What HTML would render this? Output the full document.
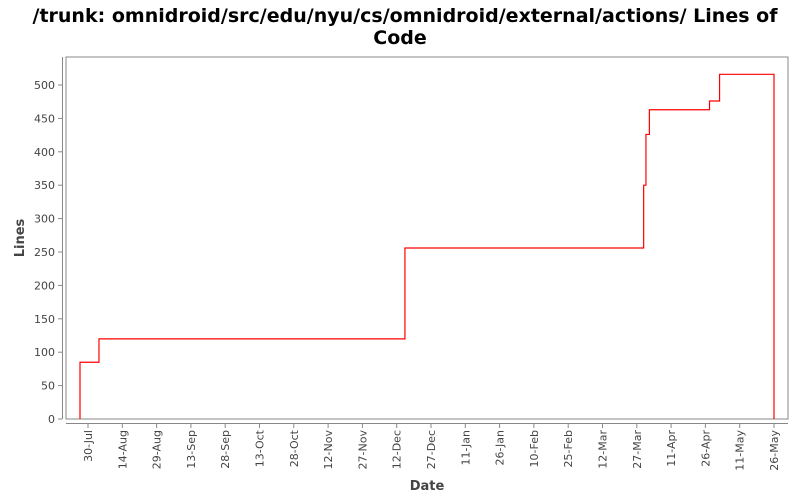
<!DOCTYPE html>
<html><head><meta charset="utf-8"><style>
body{margin:0;background:#fff;font-family:"DejaVu Sans","Liberation Sans",sans-serif;}
</style></head><body>
<svg width="800" height="500" xmlns="http://www.w3.org/2000/svg" font-family="DejaVu Sans, Liberation Sans, sans-serif">
<text x="405" y="22" text-anchor="middle" font-size="19" font-weight="bold" fill="#000" textLength="745" lengthAdjust="spacingAndGlyphs">/trunk: omnidroid/src/edu/nyu/cs/omnidroid/external/actions/ Lines of</text>
<text x="400" y="44" text-anchor="middle" font-size="19" font-weight="bold" fill="#000">Code</text>
<rect x="66" y="57" width="722" height="362" fill="#fff" stroke="#888" stroke-width="1"/>
<line x1="62.5" y1="57" x2="62.5" y2="419" stroke="#888"/>
<line x1="66" y1="423.5" x2="788" y2="423.5" stroke="#888"/>
<g id="yt"></g><g id="xt"></g>
<path id="line" fill="none" stroke="#f00" stroke-width="1.2"/>
<text x="24" y="238" transform="rotate(-90 24 238)" text-anchor="middle" font-size="13" font-weight="bold" fill="#444">Lines</text>
<text x="427" y="490" text-anchor="middle" font-size="13" font-weight="bold" fill="#444">Date</text>
</svg>
<script>
const yTicks=[0,50,100,150,200,250,300,350,400,450,500];
const xLabels=["30-Jul","14-Aug","29-Aug","13-Sep","28-Sep","13-Oct","28-Oct","12-Nov","27-Nov","12-Dec","27-Dec","11-Jan","26-Jan","10-Feb","25-Feb","12-Mar","27-Mar","11-Apr","26-Apr","11-May","26-May"];
const stepDays=[-3.5,4.8,138.6,243,244,245.5,271.8,276.2,300];
const stepValues=[85,120,256,350,426,463,476,516,0];
const ns="http://www.w3.org/2000/svg";
function X(d){return 88+d*34.3/15;}
function Y(v){return 419-v*334/500;}
const yt=document.getElementById('yt');
yTicks.forEach(v=>{
 const l=document.createElementNS(ns,'line');
 l.setAttribute('x1',58);l.setAttribute('x2',62);l.setAttribute('y1',Y(v));l.setAttribute('y2',Y(v));l.setAttribute('stroke','#888');
 
 
 yt.appendChild(l);
 const t=document.createElementNS(ns,'text');
 t.setAttribute('x',55);t.setAttribute('y',Y(v)+4);t.setAttribute('text-anchor','end');t.setAttribute('font-size','11');t.setAttribute('fill','#444');
 t.textContent=v;
 
 
 yt.appendChild(t);
});
const xt=document.getElementById('xt');
xLabels.forEach((s,i)=>{
 const x=X(i*15);
 const l=document.createElementNS(ns,'line');
 l.setAttribute('x1',x);l.setAttribute('x2',x);l.setAttribute('y1',424);l.setAttribute('y2',428);l.setAttribute('stroke','#888');
 
 
 xt.appendChild(l);
 const t=document.createElementNS(ns,'text');
 t.setAttribute('transform','translate('+(x+4)+',430) rotate(-90)');
 t.setAttribute('text-anchor','end');t.setAttribute('font-size','11');t.setAttribute('fill','#444');
 t.textContent=s;
 
 
 xt.appendChild(t);
});
let d='M'+X(stepDays[0])+','+Y(0);
let prev=0;
stepDays.forEach((day,i)=>{d+=' L'+X(day)+','+Y(prev)+' L'+X(day)+','+Y(stepValues[i]);prev=stepValues[i];});
document.getElementById('line').setAttribute('d',d);
</script>
</body></html>
